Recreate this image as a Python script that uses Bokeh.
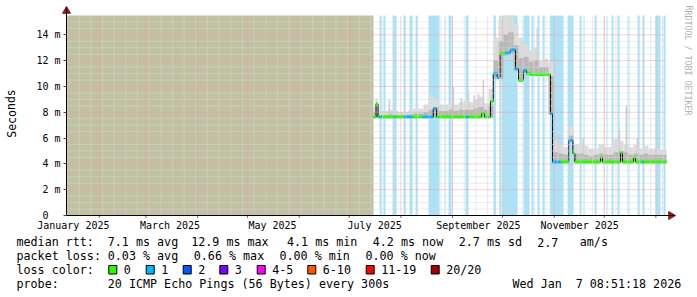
import pandas as pd
from bokeh.plotting import figure
from bokeh.models import (Range1d, FixedTicker, DatetimeTickFormatter, DatetimeAxis,
                          LinearAxis)
from bokeh.core.properties import value
from bokeh.embed import file_html
from bokeh.resources import INLINE

# ---------------- data ----------------
START = "2025-01-12 08:51"
END = "2026-01-07 08:51"
Y_MAX = 15.5

y_ticks = [0, 2, 4, 6, 8, 10, 12, 14]
y_tick_labels = ["0\u00a0\u00a0", "2 m", "4 m", "6 m", "8 m", "10 m", "12 m", "14 m"]
x_label_dates = ["2025-01-16 12:00", "2025-03-15 12:00", "2025-05-16 00:00",
                 "2025-07-16 06:00", "2025-09-16 12:00", "2025-11-16 06:00"]

unknown_start = [START]
unknown_end = ["2025-07-15 14:00"]

band_start = ["2025-07-19 05:00", "2025-07-21 14:00", "2025-07-27 00:00", "2025-08-02 14:00",
              "2025-08-06 05:00", "2025-08-09 19:00", "2025-08-17 14:00", "2025-08-27 05:00",
              "2025-08-29 14:00", "2025-09-08 19:00", "2025-09-25 14:00", "2025-09-29 05:00",
              "2025-10-01 00:00", "2025-10-13 14:00", "2025-10-18 10:00", "2025-10-22 00:00",
              "2025-10-25 00:00", "2025-10-29 10:00", "2025-11-09 00:00", "2025-11-16 05:00",
              "2025-11-18 14:00", "2025-11-25 05:00", "2025-12-02 10:00", "2025-12-05 10:00",
              "2025-12-09 00:00", "2025-12-15 14:00", "2025-12-21 00:00", "2025-12-24 00:00",
              "2025-12-31 19:00", "2026-01-05 14:00"]
band_end = ["2025-07-20 10:00", "2025-07-22 19:00", "2025-07-29 10:00", "2025-08-03 19:00",
            "2025-08-08 00:00", "2025-08-11 00:00", "2025-08-24 05:00", "2025-08-27 19:00",
            "2025-08-31 10:00", "2025-09-10 14:00", "2025-09-27 00:00", "2025-09-30 10:00",
            "2025-10-10 00:00", "2025-10-17 05:00", "2025-10-19 14:00", "2025-10-23 05:00",
            "2025-10-26 05:00", "2025-11-06 14:00", "2025-11-12 14:00", "2025-11-17 10:00",
            "2025-11-19 05:00", "2025-11-26 10:00", "2025-12-03 00:00", "2025-12-06 14:00",
            "2025-12-10 05:00", "2025-12-16 05:00", "2025-12-22 05:00", "2025-12-25 05:00",
            "2026-01-03 19:00", "2026-01-06 19:00"]

# smoke in 3-day bins from the first data point
smoke_first = "2025-07-15 14:00"
smoke_lo = [7.55, 7.55, 7.55, 7.55, 7.55, 7.55, 7.55, 7.55, 7.55, 7.55,
            7.55, 7.55, 7.55, 7.55, 7.55, 7.55, 7.55, 7.55, 7.55, 7.55,
            7.55, 7.55, 7.55, 7.55, 10.6, 10.6, 12.4, 12.5, 11.2, 10.4,
            10.9, 10.85, 10.85, 10.85, 10.85, 7.8, 4.1, 4.1, 4.1, 5.7,
            4.1, 4.1, 4.1, 4.1, 4.1, 4.1, 4.1, 4.1, 4.1, 4.1,
            4.1, 4.1, 4.1, 4.1, 4.1, 4.1, 4.1, 4.1, 4.1]
smoke_inner = [8.0, 7.8, 7.8, 7.85, 7.8, 7.8, 7.8, 7.85, 7.9, 7.9,
               8.0, 8.2, 8.4, 8.1, 8.1, 8.2, 8.1, 8.2, 8.2, 8.2,
               8.3, 8.4, 8.2, 8.6, 12.0, 13.5, 14.0, 14.2, 13.2, 12.2,
               12.3, 11.9, 12.0, 11.5, 11.5, 10.8, 4.9, 4.8, 4.7, 6.2,
               4.8, 4.8, 4.7, 4.6, 4.7, 4.8, 4.7, 4.7, 4.9, 5.0,
               4.9, 4.7, 4.8, 4.7, 4.8, 4.7, 4.7, 4.7, 4.7]
smoke_outer = [8.4, 8.1, 8.1, 8.2, 8.1, 8.0, 8.0, 8.2, 8.3, 8.3,
               8.6, 9.3, 9.0, 8.6, 8.6, 8.7, 8.6, 8.8, 8.9, 8.8,
               9.0, 9.2, 8.7, 9.8, 13.8, 15.2, 15.5, 15.5, 14.8, 13.8,
               13.3, 12.8, 13.0, 12.0, 12.1, 11.9, 5.8, 5.5, 5.3, 6.9,
               5.5, 5.6, 5.4, 5.2, 5.2, 5.5, 5.3, 5.3, 5.9, 5.8,
               5.5, 5.3, 5.5, 5.2, 5.4, 5.2, 5.2, 5.1, 5.1]

spike_date = ["2025-07-16 19:00", "2025-07-24 14:00", "2025-09-01 00:00", "2025-09-05 19:00",
              "2025-09-10 00:00", "2025-09-13 14:00", "2025-09-16 00:00", "2025-09-19 00:00",
              "2025-10-21 10:00", "2025-11-03 00:00", "2025-11-18 00:00", "2025-12-09 14:00",
              "2025-12-13 19:00", "2025-12-20 10:00"]
spike_base = [7.6, 7.6, 7.6, 7.6, 7.6, 7.6, 7.6, 7.6, 10.9, 4.15, 4.15, 4.15, 4.15, 4.15]
spike_top = [9.05, 9.0, 9.95, 9.1, 9.7, 9.3, 9.4, 10.5, 14.5, 6.3, 6.0, 6.6, 8.5, 6.0]

med_start = ["2025-07-15 14:00", "2025-07-17 02:00", "2025-07-18 07:00", "2025-07-19 05:00",
             "2025-07-20 10:00", "2025-07-27 12:00", "2025-07-29 00:00", "2025-08-03 00:00",
             "2025-08-08 00:00", "2025-08-14 00:00", "2025-08-20 10:00", "2025-08-22 10:00",
             "2025-09-09 00:00", "2025-09-10 14:00", "2025-09-18 10:00", "2025-09-20 05:00",
             "2025-09-23 19:00", "2025-09-25 10:00", "2025-09-27 19:00", "2025-09-29 12:00",
             "2025-10-02 19:00", "2025-10-05 19:00", "2025-10-08 19:00", "2025-10-10 14:00",
             "2025-10-13 10:00", "2025-10-15 10:00", "2025-10-17 19:00", "2025-10-29 19:00",
             "2025-10-31 00:00", "2025-11-05 00:00", "2025-11-09 18:00", "2025-11-12 05:00",
             "2025-11-13 10:00", "2025-11-28 19:00", "2025-11-30 00:00", "2025-12-10 19:00",
             "2025-12-12 00:00", "2025-12-18 14:00", "2025-12-19 19:00", "2025-12-24 00:00",
             "2025-12-24 19:00"]
med_value = [7.63, 8.66, 7.63, 7.63, 7.63, 7.63, 7.63, 7.63, 7.63, 7.63, 8.27, 7.63,
             7.63, 7.63, 7.9, 7.63, 8.86, 10.98, 10.72, 12.53, 12.6, 12.85, 11.37, 10.46,
             11.24, 11.0, 10.93, 7.9, 4.15, 4.15, 5.82, 4.79, 4.15, 4.5, 4.15, 4.84,
             4.15, 4.46, 4.15, 4.15, 4.15]
med_loss = [0, 0, 0, 1, 0, 1, 0, 1, 0, 1, 1, 0,
            1, 0, 0, 0, 0, 1, 1, 0, 1, 1, 1, 0,
            1, 0, 0, 1, 1, 0, 1, 0, 0, 0, 0, 0,
            0, 0, 0, 1, 0]

loss_labels = ["0", "1", "2", "3", "4-5", "6-10", "11-19", "20/20"]
loss_colors = ["#26ff00", "#00b8ff", "#0059ff", "#7e00ff", "#ff00ff", "#ff5500", "#ff0000", "#a10000"]

rtt_fields = ["median rtt:", "7.1 ms avg", "12.9 ms max", "4.1 ms min", "4.2 ms now",
              "2.7 ms sd", "2.7", "am/s"]
loss_fields = ["packet loss:", "0.03 % avg", "0.66 % max", "0.00 % min", "0.00 % now"]
legend_title = "loss color:"
probe_fields = ["probe:", "20 ICMP Echo Pings (56 Bytes) every 300s", "Wed Jan", "7 08:51:18 2026"]
y_title = "Seconds"
credit = "RRDTOOL / TOBI OETIKER"

# ---------------- layout constants (canvas pixels) ----------------
FONT = "DejaVu Sans Mono"
W, H = 697, 297
FL, FB = 66, 215          # left / bottom edge of the graph area
rtt_x = [16, 107.3, 190.7, 286.5, 372.3, 458.3, 536.7, 579.3]
loss_x = [16, 107.3, 193.3, 279.0, 365.0]
probe_x = [16, 107.3, 512.0, 575.2]
rows = [241.5, 255.3, 269.2, 283.0]
sq_x = [108.3, 145.7, 182.7, 219.3, 256.7, 307.3, 365.7, 430.7]


def ms(s):
    return pd.Timestamp(s).value / 1e6


DAY = 86400000.0
PX = 0.6 * DAY          # one pixel in x (ms)
PY = Y_MAX / 200.0      # one pixel in y
x0, x1 = ms(START), ms(END)

p = figure(width=W, height=H, x_axis_type="datetime", output_backend="svg",
           toolbar_location=None, title=None, x_axis_location=None, y_axis_location=None,
           x_range=Range1d(x0 - FL * PX, x0 + (W - FL) * PX),
           y_range=Range1d(-(H - FB) * PY, FB * PY),
           min_border=0, min_border_left=0, min_border_right=0,
           min_border_top=0, min_border_bottom=0)
p.extra_x_ranges = {"px": Range1d(0, W)}
p.extra_y_ranges = {"py": Range1d(H, 0)}
p.outline_line_color = None
p.background_fill_color = "white"
p.border_fill_color = "white"
p.grid.visible = False

# unknown data area and loss bands
p.quad(left=[ms(s) for s in unknown_start], right=[ms(s) for s in unknown_end],
       bottom=0, top=Y_MAX, fill_color="#c1c1a1", line_color=None)
p.quad(left=[ms(s) for s in band_start], right=[ms(s) for s in band_end],
       bottom=0, top=Y_MAX, fill_color="#a9e3f9", line_color=None)

# smoke
s_left = [ms(smoke_first) + i * 3 * DAY for i in range(len(smoke_lo))]
s_right = [min(l + 3 * DAY, x1) for l in s_left]
p.quad(left=s_left, right=s_right, bottom=smoke_lo, top=smoke_outer,
       fill_color="#dcdcdc", line_color=None)
p.quad(left=[ms(d) for d in spike_date], right=[ms(d) + DAY for d in spike_date],
       bottom=spike_base, top=spike_top, fill_color="#d0d0d0", line_color=None)
p.quad(left=s_left, right=s_right, bottom=smoke_lo, top=smoke_inner,
       fill_color="#b8b8b8", line_color=None)

# median
m_x = [ms(s) for s in med_start]
m_end = m_x[1:] + [x1]
p.step(x=m_x + [x1], y=med_value + [med_value[-1]], mode="after",
       line_color="black", line_width=1)
p.segment(x0=m_x, x1=m_end, y0=med_value, y1=med_value,
          line_color=[loss_colors[l] for l in med_loss], line_width=3)

# grid lines on top of the areas (rrdtool style)
week_ticks = [ms(d) for d in pd.date_range("2025-01-13", "2026-01-05", freq="7D")]
month_ticks = [ms(d) for d in pd.date_range("2025-02-01", "2026-01-01", freq="MS")]
minor_y = [v / 2 for v in range(1, 31) if v % 4 != 0]
p.segment(x0=week_ticks, x1=week_ticks, y0=0, y1=Y_MAX, line_color="#d6d6d6",
          line_dash="1 1", line_width=1)
p.segment(x0=x0, x1=x1, y0=minor_y, y1=minor_y, line_color="#d6d6d6",
          line_dash="1 1", line_width=1)
p.segment(x0=month_ticks, x1=month_ticks, y0=0, y1=Y_MAX, line_color="#eba2a2",
          line_dash="1 1", line_width=1)
p.segment(x0=x0, x1=x1, y0=y_ticks[1:], y1=y_ticks[1:], line_color="#eba2a2",
          line_dash="1 1", line_width=1)
# small month ticks under the time axis
p.segment(x0=month_ticks, x1=month_ticks, y0=0, y1=-2.5 * PY, line_color="#c05050",
          line_width=1)

# axes, drawn at fixed positions inside the canvas
yaxis = LinearAxis(fixed_location=x0, ticker=FixedTicker(ticks=y_ticks),
                   bounds=(0, Y_MAX + 8 * PY))
yaxis.major_label_overrides = {t: l for t, l in zip(y_ticks, y_tick_labels)}
yaxis.minor_tick_line_color = None
yaxis.major_tick_in = 0
yaxis.major_tick_out = 3
yaxis.major_tick_line_color = "#444444"
yaxis.major_label_standoff = 3
xaxis = DatetimeAxis(fixed_location=0, ticker=FixedTicker(ticks=[ms(d) for d in x_label_dates]),
                     formatter=DatetimeTickFormatter(days="%B %Y", months="%B %Y", years="%B %Y",
                                                     hours="%B %Y", hourmin="%B %Y"),
                     bounds=(x0, x1 + 8 * PX))
xaxis.major_tick_line_color = None
xaxis.minor_tick_line_color = None
xaxis.major_tick_out = 0
xaxis.major_tick_in = 0
xaxis.minor_tick_out = 0
xaxis.major_label_standoff = 4
for ax in (xaxis, yaxis):
    ax.axis_line_color = "black"
    ax.major_label_text_font = FONT
    ax.major_label_text_font_size = "10px"
    ax.major_label_text_color = "black"
p.add_layout(yaxis, "left")
p.add_layout(xaxis, "below")

# axis arrows
p.scatter(x=[x0], y=[Y_MAX + 4.5 * PY], marker="triangle", size=8,
          fill_color="#8b1c1c", line_color="#8b1c1c")
p.scatter(x=[x1 + 4.5 * PX], y=[0], marker="triangle", angle=-1.5708, size=8,
          fill_color="#8b1c1c", line_color="#8b1c1c")

# ---------------- texts (canvas pixel coordinates) ----------------
kw = dict(x_range_name="px", y_range_name="py", text_font=value(FONT), text_baseline="middle")
p.text(x=[11], y=[113], text=[y_title], angle=1.5708, text_align="center",
       text_font_size=value("11.5px"), text_color="black", **kw)
p.text(x=[688], y=[5], text=[credit], angle=-1.5708, text_align="left",
       text_font_size=value("8.3px"), text_color="#b0b0b0", **kw)

tx = rtt_x + loss_x + [16] + probe_x + [sx + 15 for sx in sq_x]
ty = ([rows[0]] * len(rtt_x) + [rows[1]] * len(loss_x) + [rows[2]] +
      [rows[3]] * len(probe_x) + [rows[2]] * len(sq_x))
tt = rtt_fields + loss_fields + [legend_title] + probe_fields + loss_labels
p.text(x=tx, y=ty, text=tt, text_font_size=value("11.7px"), text_align="left",
       text_color="black", **kw)
p.quad(left=sq_x, right=[sx + 8 for sx in sq_x], top=265, bottom=273.5,
       fill_color=loss_colors, line_color="black", line_width=1,
       x_range_name="px", y_range_name="py")

open("out.html", "w").write(file_html(p, INLINE))
